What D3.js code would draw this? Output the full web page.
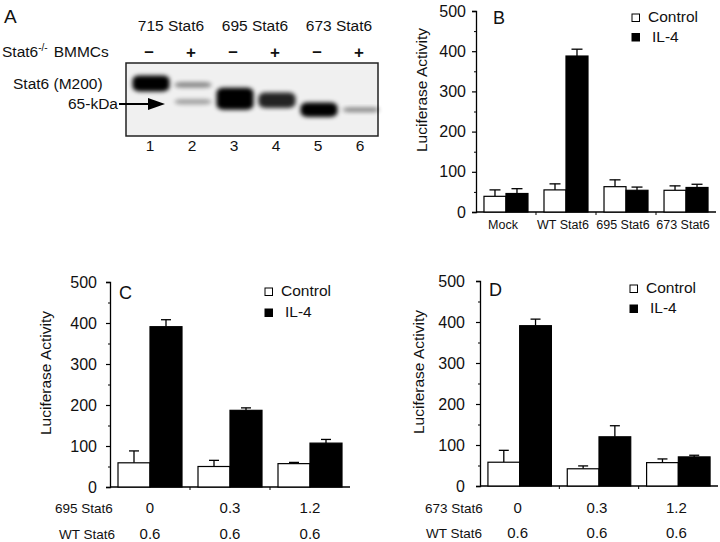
<!DOCTYPE html>
<html><head><meta charset="utf-8">
<script src="https://cdn.jsdelivr.net/npm/d3@7"></script>
<style>
body{margin:0;background:#fff;}
text{font-family:"Liberation Sans",Arial,Helvetica,sans-serif;fill:#111;}
</style></head>
<body><svg id="fig" width="720" height="542"></svg>
<script>
// ---------- Panel A data (western blot) ----------
const lanes = ["1","2","3","4","5","6"];
const constructs = ["715 Stat6","695 Stat6","673 Stat6"];
const bmmcSigns = ["–","+","–","+","–","+"];
// band: lane, relative migration (0 top..1 bottom of blot), relative thickness, intensity
const bandLane = ["1","2","2","3","4","5","6"];
const bandMigration = [0.28,0.30,0.53,0.49,0.51,0.64,0.64];
const bandThickness = [0.22,0.07,0.07,0.30,0.21,0.20,0.06];
const bandIntensity = [1.0,0.45,0.35,1.0,0.85,1.0,0.45];

// ---------- Panel B data ----------
const bCategories = ["Mock","WT Stat6","695 Stat6","673 Stat6"];
const bControl = [39,55,63,54];
const bControlErr = [16,15,17,11];
const bIL4 = [46,388,54,61];
const bIL4Err = [12,17,8,8];

// ---------- Panel C data ----------
const cMutant = ["0","0.3","1.2"];
const cWT = ["0.6","0.6","0.6"];
const cControl = [59,50,57];
const cControlErr = [29,15,3];
const cIL4 = [391,187,107];
const cIL4Err = [17,6,9];

// ---------- Panel D data ----------
const dMutant = ["0","0.3","1.2"];
const dWT = ["0.6","0.6","0.6"];
const dControl = [58,42,57];
const dControlErr = [29,7,9];
const dIL4 = [391,120,71];
const dIL4Err = [16,27,4];

const yTicks = [0,100,200,300,400,500];
const series = ["Control","IL-4"];
const seriesFill = {"Control":"#fff","IL-4":"#000"};

const svg = d3.select("#fig");
svg.append("rect").attr("width",720).attr("height",542).attr("fill","#fff");

// ===== Panel A =====
(function(){
  const g = svg.append("g");
  const defs = svg.append("defs");
  defs.append("filter").attr("id","blur").attr("x","-30%").attr("y","-80%").attr("width","160%").attr("height","260%")
    .append("feGaussianBlur").attr("stdDeviation","2");
  const box = {x0:126,x1:378,y0:63,y1:136};
  g.append("rect").attr("x",box.x0).attr("y",box.y0).attr("width",box.x1-box.x0).attr("height",box.y1-box.y0)
    .attr("fill","#f0f0f0").attr("stroke","#222").attr("stroke-width",1.5);
  const lx = d3.scalePoint().domain(lanes).range([151,361]);
  const my = d3.scaleLinear().domain([0,1]).range([box.y0,box.y1]);
  const bw = 37;
  const bands = bandLane.map((l,i)=>({lane:l,m:bandMigration[i],t:bandThickness[i],v:bandIntensity[i]}));
  g.selectAll("rect.band").data(bands).enter().append("rect").attr("class","band")
    .attr("x",d=>lx(d.lane)-bw/2).attr("width",bw)
    .attr("y",d=>my(d.m)-(my(d.t)-my(0))/2).attr("height",d=>my(d.t)-my(0))
    .attr("rx",7).attr("ry",5)
    .attr("fill","#000").attr("opacity",d=>d.v)
    .attr("filter","url(#blur)");
  // headers
  g.selectAll("text.hdr").data(constructs).enter().append("text").attr("class","hdr")
    .attr("x",(d,i)=>(lx(lanes[2*i])+lx(lanes[2*i+1]))/2-1).attr("y",31)
    .attr("text-anchor","middle").attr("font-size",15.5).text(d=>d);
  g.selectAll("text.sign").data(bmmcSigns).enter().append("text").attr("class","sign")
    .attr("x",(d,i)=>lx(lanes[i])-2).attr("y",d=>d==="+"?58:57)
    .attr("text-anchor","middle").attr("font-size",17).attr("font-weight","bold").text(d=>d);
  g.selectAll("text.lane").data(lanes).enter().append("text").attr("class","lane")
    .attr("x",d=>lx(d)-1).attr("y",151).attr("text-anchor","middle").attr("font-size",15.5).text(d=>d);
  const t = g.append("text").attr("x",2).attr("y",57).attr("font-size",15.5);
  t.append("tspan").text("Stat6");
  t.append("tspan").attr("font-size",10).attr("dy",-6).text("-/-");
  t.append("tspan").attr("dy",6).attr("dx",6).text("BMMCs");
  g.append("text").attr("x",13).attr("y",89).attr("font-size",15.5).text("Stat6 (M200)");
  g.append("text").attr("x",68).attr("y",109).attr("font-size",15.5).text("65-kDa");
  g.append("line").attr("x1",119).attr("x2",150).attr("y1",104).attr("y2",104).attr("stroke","#000").attr("stroke-width",2);
  g.append("path").attr("d","M148,98 L165,104 L148,110 Z").attr("fill","#000");
  g.append("text").attr("x",4).attr("y",23).attr("font-size",19).text("A");
})();

// ===== bar chart helper =====
function barPanel(opt){
  const g = svg.append("g");
  const y = d3.scaleLinear().domain([0,500]).range([opt.y0,opt.y1]);
  const x0 = d3.scaleBand().domain(opt.cats).range([opt.xa,opt.xb]).paddingInner(opt.pi).paddingOuter(opt.po);
  const x1 = d3.scaleBand().domain(series).range([0,x0.bandwidth()]);
  // y axis
  const ax = d3.axisLeft(y).tickValues(yTicks).tickSize(4).tickPadding(opt.tp);
  const ag = g.append("g").attr("transform",`translate(${opt.xa},0)`).call(ax);
  ag.select(".domain").attr("stroke","#000").attr("stroke-width",1.3);
  ag.selectAll(".tick line").attr("stroke","#000").attr("stroke-width",1.2);
  ag.selectAll(".tick text").attr("font-size",16).attr("font-family","Liberation Sans, Arial, sans-serif").attr("fill","#111");
  const minor = d3.axisLeft(y).tickValues(d3.range(50,500,100)).tickSize(2).tickFormat("");
  const mg = g.append("g").attr("transform",`translate(${opt.xa},0)`).call(minor);
  mg.select(".domain").remove();
  mg.selectAll("line").attr("stroke","#000");
  // x axis
  const xg = g.append("g").attr("transform",`translate(0,${opt.y0})`);
  xg.append("line").attr("x1",opt.xa).attr("x2",opt.xb).attr("y1",0).attr("y2",0).attr("stroke","#000").attr("stroke-width",1.3);
  const bounds = opt.cats.slice(1).map(c=>x0(c)-x0.step()*x0.paddingInner()/2);
  xg.selectAll("line.b").data(bounds).enter().append("line").attr("class","b")
    .attr("x1",d=>d).attr("x2",d=>d).attr("y1",0).attr("y2",3).attr("stroke","#000");
  // bars
  const rows = opt.cats.map((c,i)=>({cat:c,vals:[
    {s:"Control",v:opt.ctrl[i],e:opt.ctrlErr[i]},{s:"IL-4",v:opt.il4[i],e:opt.il4Err[i]}]}));
  const gg = g.selectAll("g.grp").data(rows).enter().append("g").attr("class","grp")
    .attr("transform",d=>`translate(${x0(d.cat)},0)`);
  // error bars
  gg.selectAll("g.err").data(d=>d.vals).enter().append("g").attr("class","err").each(function(d){
    const cx = x1(d.s)+x1.bandwidth()/2;
    const s = d3.select(this);
    s.append("line").attr("x1",cx).attr("x2",cx).attr("y1",y(d.v)).attr("y2",y(d.v+d.e)).attr("stroke","#000").attr("stroke-width",1.3);
    s.append("line").attr("x1",cx-opt.cap).attr("x2",cx+opt.cap).attr("y1",y(d.v+d.e)).attr("y2",y(d.v+d.e)).attr("stroke","#000").attr("stroke-width",1.3);
  });
  gg.selectAll("rect").data(d=>d.vals).enter().append("rect")
    .attr("x",d=>x1(d.s)).attr("width",x1.bandwidth())
    .attr("y",d=>y(d.v)).attr("height",d=>y(0)-y(d.v))
    .attr("fill",d=>seriesFill[d.s]).attr("stroke","#000").attr("stroke-width",1.2);
  // y label
  g.append("text").attr("transform",`translate(${opt.ylx},${opt.yly}) rotate(-90)`)
    .attr("text-anchor","middle").attr("font-size",15.5).text("Luciferase Activity");
  // panel letter
  g.append("text").attr("x",opt.letterX).attr("y",opt.letterY).attr("font-size",18).text(opt.letter);
  // legend
  const lg = g.append("g");
  series.forEach((s,i)=>{
    lg.append("rect").attr("x",opt.legX).attr("y",opt.legY+i*opt.legDy-8).attr("width",7.5).attr("height",7.5)
      .attr("fill",seriesFill[s]).attr("stroke","#000").attr("stroke-width",1);
    lg.append("text").attr("x",opt.legX+(s==="IL-4"?20:16)).attr("y",opt.legY+i*opt.legDy).attr("font-size",15.5).text(s);
  });
  return {g,x0,y};
}

// ===== Panel B =====
(function(){
  const p = barPanel({cats:bCategories,ctrl:bControl,ctrlErr:bControlErr,il4:bIL4,il4Err:bIL4Err,
    xa:476,xb:716,y0:212,y1:11,pi:0.267,po:0.133,tp:6,cap:5.5,
    ylx:427,yly:90,letter:"B",letterX:493,letterY:24,legX:632,legY:22,legDy:19.5});
  p.g.selectAll("text.cat").data(bCategories).enter().append("text").attr("class","cat")
    .attr("x",d=>p.x0(d)+p.x0.bandwidth()/2-3).attr("y",229).attr("text-anchor","middle").attr("font-size",12.5).text(d=>d);
})();

// ===== Panel C =====
(function(){
  const p = barPanel({cats:cMutant,ctrl:cControl,ctrlErr:cControlErr,il4:cIL4,il4Err:cIL4Err,
    xa:110,xb:350,y0:487,y1:282,pi:0.2,po:0.1,tp:9,cap:5,
    ylx:51,yly:373,letter:"C",letterX:119,letterY:299,legX:265,legY:296,legDy:21});
  p.g.selectAll("text.m").data(cMutant).enter().append("text").attr("class","m")
    .attr("x",d=>p.x0(d)+p.x0.bandwidth()/2).attr("y",513).attr("text-anchor","middle").attr("font-size",15).text(d=>d);
  p.g.selectAll("text.w").data(cWT).enter().append("text").attr("class","w")
    .attr("x",(d,i)=>p.x0(cMutant[i])+p.x0.bandwidth()/2).attr("y",539).attr("text-anchor","middle").attr("font-size",15).text(d=>d);
  p.g.append("text").attr("x",55).attr("y",513).attr("font-size",13.5).text("695 Stat6");
  p.g.append("text").attr("x",59).attr("y",539).attr("font-size",13.5).text("WT Stat6");
})();

// ===== Panel D =====
(function(){
  const p = barPanel({cats:dMutant,ctrl:dControl,ctrlErr:dControlErr,il4:dIL4,il4Err:dIL4Err,
    xa:480,xb:718,y0:486,y1:281,pi:0.2,po:0.1,tp:11,cap:5,
    ylx:424,yly:372,letter:"D",letterX:489,letterY:296,legX:630,legY:293,legDy:20});
  p.g.selectAll("text.m").data(dMutant).enter().append("text").attr("class","m")
    .attr("x",d=>p.x0(d)+p.x0.bandwidth()/2-2).attr("y",513).attr("text-anchor","middle").attr("font-size",15).text(d=>d);
  p.g.selectAll("text.w").data(dWT).enter().append("text").attr("class","w")
    .attr("x",(d,i)=>p.x0(dMutant[i])+p.x0.bandwidth()/2-2).attr("y",538).attr("text-anchor","middle").attr("font-size",15).text(d=>d);
  p.g.append("text").attr("x",425).attr("y",513).attr("font-size",13.5).text("673 Stat6");
  p.g.append("text").attr("x",426).attr("y",538).attr("font-size",13.5).text("WT Stat6");
})();
</script></body></html>
